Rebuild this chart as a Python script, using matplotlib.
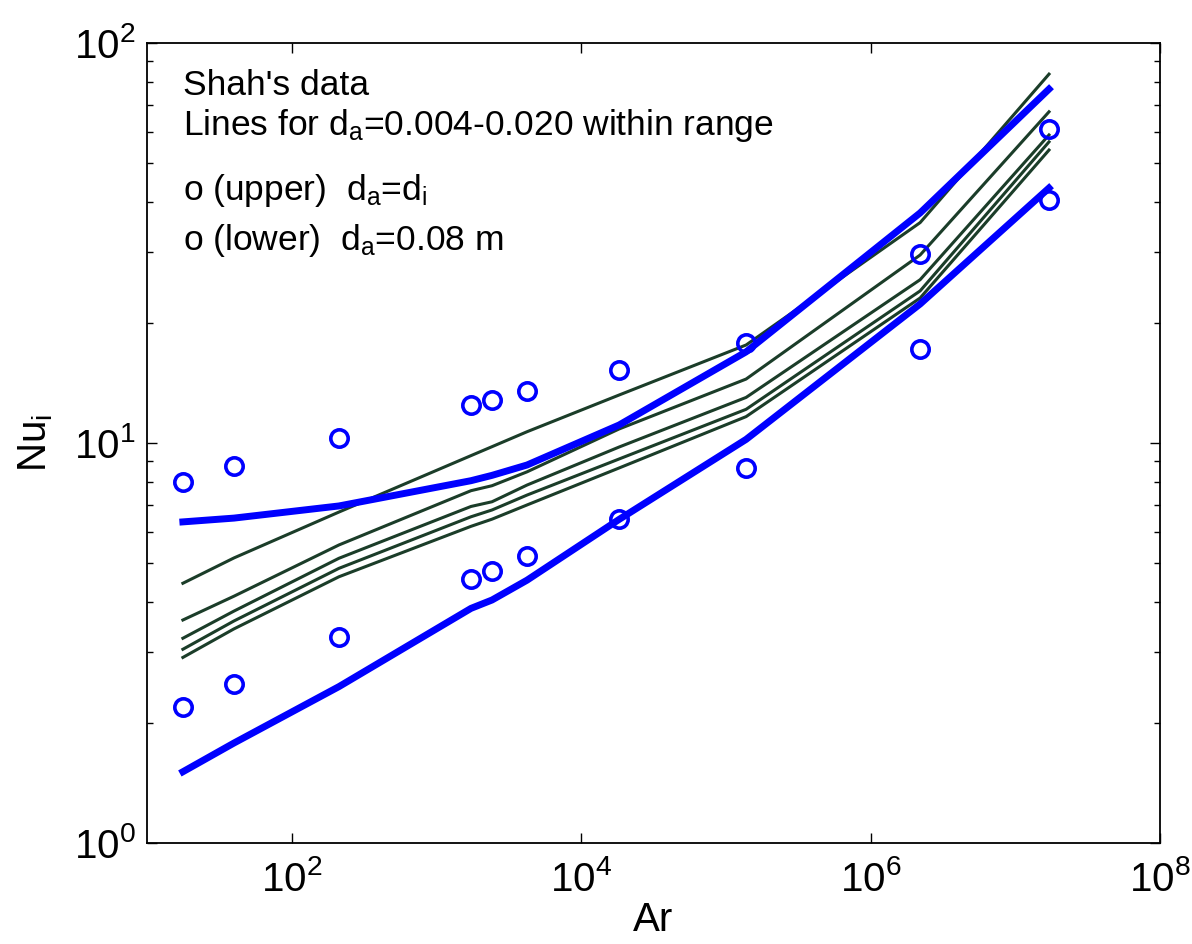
import matplotlib
matplotlib.use("Agg")
import matplotlib.pyplot as plt
from matplotlib.ticker import FixedLocator, NullLocator, LogLocator

plt.rcParams['font.family'] = ['Liberation Sans', 'DejaVu Sans']
plt.rcParams['mathtext.fontset'] = 'custom'
plt.rcParams['mathtext.rm'] = 'Liberation Sans'
plt.rcParams['mathtext.it'] = 'Liberation Sans'
plt.rcParams['mathtext.bf'] = 'Liberation Sans'

# Archimedes numbers (x)
ar = [17.7, 39.9, 212, 1734, 2421, 4227, 18280, 1.38e5, 2.2e6, 1.71e7]

# Shah's data points
nu_upper_pts = [7.99, 8.76, 10.29, 12.45, 12.81, 13.49, 15.22, 17.78, 29.69, 60.95]
nu_lower_pts = [2.19, 2.50, 3.27, 4.57, 4.79, 5.22, 6.46, 8.68, 17.15, 40.5]

# Thick blue model lines (upper: d_a = d_i, lower: d_a = 0.08 m)
nu_upper_line = [6.35, 6.49, 6.96, 8.05, 8.30, 8.81, 11.09, 16.9, 37.6, 76.7]
nu_lower_line = [1.507, 1.778, 2.46, 3.86, 4.05, 4.54, 6.44, 10.21, 22.26, 43.4]

# Dark lines for d_a = 0.004 - 0.020
nu_g1 = [4.46, 5.16, 6.72, 9.30, 9.79, 10.67, 13.18, 17.58, 35.56, 83.6]
nu_g2 = [3.61, 4.14, 5.56, 7.60, 7.82, 8.47, 10.84, 14.45, 29.51, 67.3]
nu_g3 = [3.25, 3.80, 5.15, 6.94, 7.13, 7.85, 9.77, 13.0, 25.6, 58.9]
nu_g4 = [3.05, 3.59, 4.86, 6.54, 6.80, 7.41, 9.12, 12.14, 24.0, 56.6]
nu_g5 = [2.91, 3.43, 4.63, 6.19, 6.45, 7.00, 8.66, 11.64, 23.04, 54.0]
green_lines = [nu_g1, nu_g2, nu_g3, nu_g4, nu_g5]

x_ticks = [1e2, 1e4, 1e6, 1e8]
y_ticks = [1e0, 1e1, 1e2]

fig = plt.figure(figsize=(11.92, 9.44), dpi=100)
ax = fig.add_axes([147/1192, 1-843/944, (1160-147)/1192, (843-43)/944])

green = '#1b3d29'
for g in green_lines:
    ax.plot(ar, g, color=green, lw=2.2)
ax.plot(ar, nu_upper_line, color='#0000ff', lw=5.0)
ax.plot(ar, nu_lower_line, color='#0000ff', lw=5.0)
ax.plot(ar, nu_upper_pts, 'o', ms=12.5, mfc='none', mec='#0000ff', mew=2.6)
ax.plot(ar, nu_lower_pts, 'o', ms=12.5, mfc='none', mec='#0000ff', mew=2.6)

ax.set_xscale('log')
ax.set_yscale('log')
ax.set_xlim(10, 1e8)
ax.set_ylim(1, 100)
ax.xaxis.set_major_locator(FixedLocator(x_ticks))
ax.xaxis.set_minor_locator(NullLocator())
ax.yaxis.set_major_locator(FixedLocator(y_ticks))
ax.yaxis.set_minor_locator(LogLocator(base=10, subs=range(2, 10)))
ax.yaxis.set_minor_formatter(plt.NullFormatter())

ax.tick_params(which='both', direction='in', top=True, right=True, width=1.0, colors='black')
ax.tick_params(which='major', length=7, labelsize=29)
ax.tick_params(axis='x', which='major', pad=12)
ax.tick_params(axis='y', which='major', pad=8)
ax.tick_params(which='minor', length=4)
for s in ax.spines.values():
    s.set_linewidth(1.3)

ax.set_xlabel('Ar', fontsize=29, labelpad=2)
ax.set_ylabel(r'Nu$_\mathregular{i}$', fontsize=29, labelpad=14)

fs = 25.5
tx = 0.036
ax.text(tx, (843 - 95) / 800, "Shah's data", transform=ax.transAxes, fontsize=fs, va='baseline')
ax.text(tx, (843 - 135) / 800, r"Lines for d$_\mathregular{a}$=0.004-0.020 within range", transform=ax.transAxes, fontsize=fs, va='baseline')
ax.text(tx, (843 - 200) / 800, r"o (upper)  d$_\mathregular{a}$=d$_\mathregular{i}$", transform=ax.transAxes, fontsize=fs, va='baseline')
ax.text(tx, (843 - 250) / 800, r"o (lower)  d$_\mathregular{a}$=0.08 m", transform=ax.transAxes, fontsize=fs, va='baseline')

fig.savefig('out.png', dpi=100)
